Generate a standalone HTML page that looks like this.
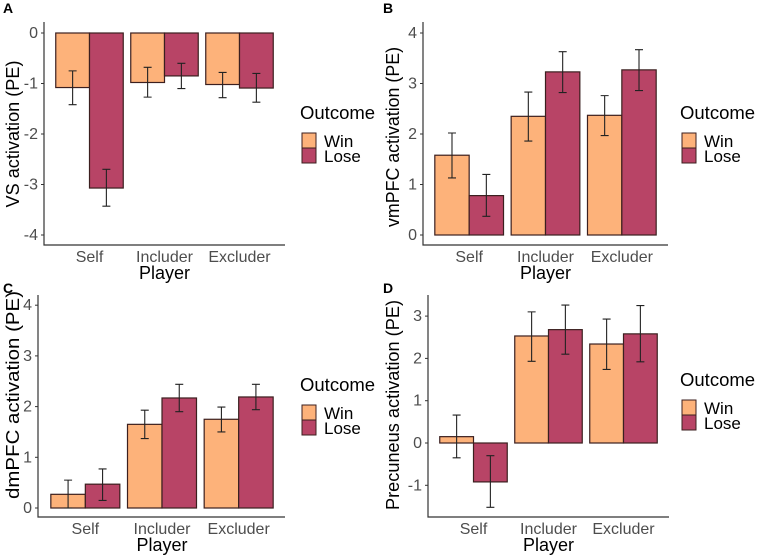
<!DOCTYPE html>
<html><head><meta charset="utf-8"><style>
body{margin:0;background:#fff;}
svg{display:block;font-family:"Liberation Sans",sans-serif;}
</style></head><body>
<svg id="fig" width="760" height="556" viewBox="0 0 760 556"></svg>
<script>
const categories = ["Self","Includer","Excluder"];
const seriesNames = ["Win","Lose"];
const aWin = [-1.08,-0.98,-1.02], aLose = [-3.07,-0.85,-1.09];
const aWinLo = [-1.42,-1.27,-1.28], aWinHi = [-0.75,-0.68,-0.78];
const aLoseLo = [-3.43,-1.10,-1.37], aLoseHi = [-2.70,-0.60,-0.80];
const aTicks = [0,-1,-2,-3,-4];
const bWin = [1.58,2.35,2.37], bLose = [0.78,3.23,3.27];
const bWinLo = [1.13,1.86,1.97], bWinHi = [2.02,2.83,2.76];
const bLoseLo = [0.37,2.82,2.86], bLoseHi = [1.20,3.63,3.67];
const bTicks = [0,1,2,3,4];
const cWin = [0.27,1.65,1.75], cLose = [0.47,2.17,2.19];
const cWinLo = [0.00,1.37,1.50], cWinHi = [0.55,1.93,1.99];
const cLoseLo = [0.15,1.90,1.94], cLoseHi = [0.77,2.44,2.44];
const cTicks = [0,1,2,3,4];
const dWin = [0.15,2.53,2.34], dLose = [-0.92,2.68,2.58];
const dWinLo = [-0.35,1.93,1.74], dWinHi = [0.66,3.10,2.93];
const dLoseLo = [-1.52,2.10,1.92], dLoseHi = [-0.30,3.26,3.25];
const dTicks = [-1,0,1,2,3];

const NS="http://www.w3.org/2000/svg";
const svg=document.getElementById('fig');
function mk(tag,attrs,parent){const e=document.createElementNS(NS,tag);for(const k in attrs)e.setAttribute(k,attrs[k]);(parent||svg).appendChild(e);return e;}
const COLORS=["#FDB27A","#B84466"];

function panel(p){
  const g=mk('g',{});
  
  
  const y=v=>p.y0-(v-p.v0)*p.ppu;
  const lt=mk('text',{x:p.ox+3,y:p.oy+13,'font-size':14,'font-weight':'bold',fill:'#000'},g);lt.textContent=p.letter;
  
  
  const groupW=(p.x1-p.x0)/3, barW=groupW*0.45;
  const series=[[p.win,p.winLo,p.winHi],[p.lose,p.loseLo,p.loseHi]];
  categories.forEach((c,i)=>{
    const cx=p.x0+groupW*(i+0.5);
    series.forEach((s,j)=>{
      const bx=cx+(j-1)*barW, v=s[0][i];
      const r=mk('rect',{x:bx,y:Math.min(y(0),y(v)),width:barW,height:Math.abs(y(v)-y(0)),fill:COLORS[j],stroke:'#3b1f1f','stroke-width':1.2},g);
      
      
      const ex=bx+barW/2, lo=y(s[1][i]), hi=y(s[2][i]);
      const eb=mk('path',{d:`M${ex},${lo}V${hi}M${ex-4},${lo}H${ex+4}M${ex-4},${hi}H${ex+4}`,stroke:'#222','stroke-width':1.1,fill:'none'},g);
      
      
    });
    const tl=mk('text',{x:cx,y:p.axB+17,'font-size':16,fill:'#4d4d4d','text-anchor':'middle'},g);tl.textContent=c;
    
    
  });
  const ax=mk('path',{d:`M${p.axL},${p.axT}V${p.axB}H${p.x1+8}`,stroke:'#333','stroke-width':1.2,fill:'none'},g);
  
  
  p.ticks.forEach(t=>{
    mk('line',{x1:p.axL-3,x2:p.axL,y1:y(t),y2:y(t),stroke:'#333'},g);
    const tt=mk('text',{x:p.axL-6,y:y(t)+5,'font-size':16,fill:'#4d4d4d','text-anchor':'end'},g);tt.textContent=t;
    
    
  });
  const xt=mk('text',{x:(p.x0+p.x1)/2,y:p.axB+34,'font-size':18,fill:'#000','text-anchor':'middle'},g);xt.textContent='Player';
  
  
  const ytx=p.ox+19, yty=p.ytc;
  const yt=mk('text',{x:ytx,y:yty,'font-size':18,fill:'#000','text-anchor':'middle',textLength:p.ytl,lengthAdjust:'spacingAndGlyphs',transform:`rotate(-90 ${ytx} ${yty})`},g);yt.textContent=p.ytitle;
  
  
  const lx=p.ox+300, ly=p.legY;
  const lg=mk('text',{x:lx,y:ly,'font-size':18.5,fill:'#000'},g);lg.textContent='Outcome';
  
  
  seriesNames.forEach((n,j)=>{
    const sw=mk('rect',{x:lx+2,y:ly+14+j*15,width:14,height:15,fill:COLORS[j],stroke:'#3b1f1f','stroke-width':1},g);
    
    
    const lt2=mk('text',{x:lx+24,y:ly+28+j*15,'font-size':17,fill:'#000'},g);lt2.textContent=n;
    
    
  });
}
panel({letter:'A',ox:0,oy:0,axL:44,axT:22,axB:245,x0:52,x1:277,v0:0,y0:33,ppu:50.5,ticks:aTicks,
  win:aWin,lose:aLose,winLo:aWinLo,winHi:aWinHi,loseLo:aLoseLo,loseHi:aLoseHi,ytitle:'VS activation (PE)',legY:119,ytc:134,ytl:147});
panel({letter:'B',ox:380,oy:0,axL:423,axT:22,axB:245,x0:431,x1:660,v0:0,y0:235,ppu:50.5,ticks:bTicks,
  win:bWin,lose:bLose,winLo:bWinLo,winHi:bWinHi,loseLo:bLoseLo,loseHi:bLoseHi,ytitle:'vmPFC activation (PE)',legY:119,ytc:137,ytl:180});
panel({letter:'C',ox:0,oy:280,axL:38,axT:295,axB:517,x0:47,x1:277,v0:0,y0:508,ppu:50.7,ticks:cTicks,
  win:cWin,lose:cLose,winLo:cWinLo,winHi:cWinHi,loseLo:cLoseLo,loseHi:cLoseHi,ytitle:'dmPFC activation (PE)',legY:391,ytc:395,ytl:208});
panel({letter:'D',ox:380,oy:280,axL:428,axT:295,axB:517,x0:436,x1:661,v0:0,y0:443,ppu:42.3,ticks:dTicks,
  win:dWin,lose:dLose,winLo:dWinLo,winHi:dWinHi,loseLo:dLoseLo,loseHi:dLoseHi,ytitle:'Precuneus activation (PE)',legY:386,ytc:405,ytl:210});
</script>
</body></html>
